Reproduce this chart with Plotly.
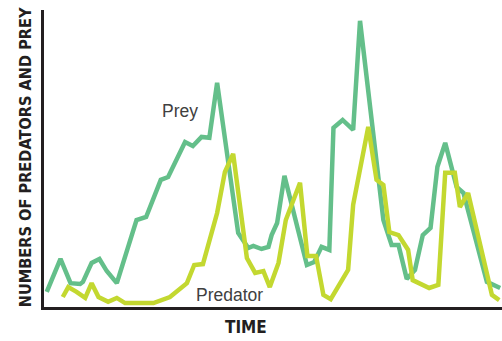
import plotly.graph_objects as go

# Prey series (time, count) in arbitrary units
prey_time = [0.6, 3.6, 5.8, 7.9, 8.5, 10.4, 12.1, 13.7, 15.9, 20.2, 22.3, 25.5, 27.1,
             30.8, 32.5, 34.4, 36.1, 37.8, 42.4, 44.6, 45.7, 47.5, 49.0, 49.7, 50.9,
             52.5, 57.4, 59.0, 60.6, 62.3, 63.2, 65.2, 67.5, 69.0, 74.1, 75.9, 77.4,
             79.2, 81.0, 82.7, 84.4, 85.9, 87.6, 90.1, 91.6, 96.7, 99.6]
prey_count = [5.0, 15.9, 7.9, 7.6, 8.3, 14.6, 15.9, 11.9, 7.9, 28.8, 29.8, 42.1, 43.0,
              54.6, 53.3, 56.3, 56.0, 74.2, 24.5, 19.5, 20.2, 19.2, 19.9, 23.8, 27.8,
              43.4, 13.9, 14.9, 19.9, 18.9, 59.3, 61.9, 58.6, 94.7, 28.8, 20.5, 20.5,
              9.3, 12.3, 23.8, 26.2, 46.4, 54.3, 39.7, 37.7, 8.3, 6.3]

# Predator series
pred_time = [4.1, 5.3, 7.1, 9.0, 10.4, 11.9, 14.0, 15.9, 17.7, 23.9, 27.5, 31.2, 32.8,
             34.7, 37.8, 39.5, 41.3, 44.3, 46.1, 47.9, 49.3, 51.2, 52.8, 55.9, 57.5,
             59.4, 61.0, 62.6, 66.4, 67.5, 70.8, 72.6, 74.1, 75.4, 77.4, 79.5, 80.5,
             84.1, 86.1, 87.6, 89.7, 90.8, 92.6, 97.8, 99.4]
pred_count = [3.3, 6.6, 5.0, 3.0, 7.9, 3.3, 1.7, 3.0, 1.3, 1.3, 3.3, 7.9, 13.9,
              14.2, 31.1, 44.7, 50.7, 16.2, 11.3, 11.9, 6.6, 14.6, 28.8, 41.1, 16.9,
              16.9, 4.0, 2.6, 12.3, 33.8, 59.6, 42.1, 40.4, 24.8, 23.8, 18.9, 8.9,
              6.3, 7.3, 44.4, 44.4, 33.1, 37.7, 4.0, 2.3]

PREY_COLOR = "#64bf8a"
PRED_COLOR = "#c3d830"
AXIS_COLOR = "#231f20"

fig = go.Figure()
fig.add_trace(go.Scatter(x=prey_time, y=prey_count, mode="lines",
                         line=dict(color=PREY_COLOR, width=4.5), name="Prey",
                         showlegend=False, hoverinfo="skip"))
fig.add_trace(go.Scatter(x=pred_time, y=pred_count, mode="lines",
                         line=dict(color=PRED_COLOR, width=4.5), name="Predator",
                         showlegend=False, hoverinfo="skip"))

label_font = dict(family="Liberation Sans, Arial, sans-serif", size=17.5, color="#404040")
fig.add_annotation(x=29.7, y=64.9, text="Prey", showarrow=False, font=label_font,
                   xanchor="center", yanchor="middle")
fig.add_annotation(x=40.6, y=4.0, text="Predator", showarrow=False, font=label_font,
                   xanchor="center", yanchor="middle")

title_font = dict(family="DejaVu Sans Condensed, DejaVu Sans, sans-serif",
                  size=16.2, color=AXIS_COLOR, weight="bold")
fig.add_annotation(xref="paper", yref="paper", x=-0.041, y=0.505,
                   text="NUMBERS OF PREDATORS AND PREY", textangle=-90,
                   showarrow=False, font=title_font, xanchor="center", yanchor="middle")
fig.add_annotation(xref="paper", yref="paper", x=0.442, y=-0.067,
                   text="TIME", showarrow=False, font=dict(title_font, size=17),
                   xanchor="center", yanchor="middle")

fig.update_layout(
    width=502, height=341,
    margin=dict(l=44, r=0, t=10, b=34),
    paper_bgcolor="white", plot_bgcolor="white",
    xaxis=dict(range=[0, 100], showgrid=False, zeroline=False, showticklabels=False,
               ticks="", showline=True, linecolor=AXIS_COLOR, linewidth=3),
    yaxis=dict(range=[0, 98.3], showgrid=False, zeroline=False, showticklabels=False,
               ticks="", showline=True, linecolor=AXIS_COLOR, linewidth=3),
)

fig.write_html("out.html", config={"displayModeBar": False},
               post_script="document.body.style.margin='0px';document.body.style.overflow='hidden';")
